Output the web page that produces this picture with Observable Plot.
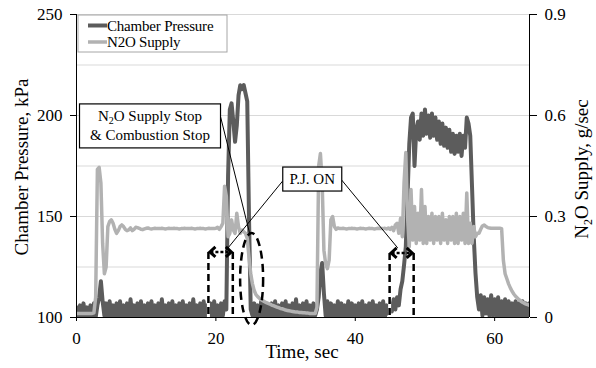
<!DOCTYPE html>
<html><head><meta charset="utf-8">
<script src="https://cdn.jsdelivr.net/npm/d3@7"></script>
<script src="https://cdn.jsdelivr.net/npm/@observablehq/plot@0.6"></script>
<style>body{margin:0;background:#fff;}</style>
</head><body><div id="chart"></div>
<script>
// ---- data (sampled every dt seconds, starting at t = 0) ----
const dt = 0.25;
// Chamber Pressure, kPa
const pressure = [
  105,101,106,100,107,101,105,100, // 0
  106,101,107,100,106,110,118,108, // 2
  101,107,100,108,101,106,100,107, // 4
  101,108,100,106,101,107,100,109, // 6
  101,106,100,107,101,108,100,106, // 8
  101,107,100,108,101,106,100,107, // 10
  101,109,100,106,101,107,100,108, // 12
  101,106,100,107,101,108,100,106, // 14
  101,107,100,109,101,106,100,107, // 16
  101,108,100,106,101,107,100,108, // 18
  101,106,100,107,101,108,104,170, // 20
  203,206,197,187,195,210,215,213, // 22
  215,211,207,150,104,101,107,100, // 24
  106,101,108,100,107,101,106,100, // 26
  107,101,108,100,106,101,107,100, // 28
  108,101,106,100,107,101,109,100, // 30
  106,101,107,100,108,101,106,100, // 32
  107,101,104,110,122,127,112,101, // 34
  108,100,107,101,106,100,108,101, // 36
  107,100,106,101,108,100,107,101, // 38
  106,100,107,101,108,100,106,101, // 40
  107,100,108,101,106,100,107,101, // 42
  108,100,106,102,107,103,109,104, // 44
  110,106,114,118,126,135,160,186, // 46
  199,201,175,193,197,188,201,190, // 48
  203,191,200,189,201,190,199,188, // 50
  197,186,196,185,194,184,193,182, // 52
  191,181,190,182,191,180,190,184, // 54
  199,196,190,165,140,122,110,104, // 56
  111,101,110,102,109,101,111,101, // 58
  109,101,110,100,108,101,109,100, // 60
  108,101,107,100,108,101,107,100, // 62
  108,101,107,100,107              // 64
];
// N2O Supply, g/sec
const n2o = [
  0.012,0.012,0.012,0.012,0.012,0.012,0.012,0.012, // 0
  0.012,0.012,0.014,0.06,0.44,0.446,0.40,0.22,     // 2
  0.13,0.15,0.27,0.285,0.29,0.28,0.262,0.25,       // 4
  0.258,0.27,0.275,0.27,0.262,0.258,0.26,0.266,    // 6
  0.258,0.262,0.268,0.267,0.265,0.262,0.261,0.263, // 8
  0.265,0.266,0.264,0.263,0.264,0.265,0.264,0.264, // 10
  0.264,0.265,0.264,0.263,0.264,0.265,0.264,0.264, // 12
  0.265,0.264,0.264,0.263,0.264,0.264,0.265,0.264, // 14
  0.264,0.264,0.265,0.264,0.263,0.264,0.264,0.265, // 16
  0.264,0.264,0.263,0.264,0.265,0.264,0.264,0.264, // 18
  0.265,0.268,0.262,0.27,0.28,0.39,0.36,0.24,      // 20
  0.25,0.29,0.26,0.25,0.31,0.27,0.25,0.26,         // 22
  0.255,0.25,0.235,0.18,0.13,0.10,0.08,0.068,      // 24
  0.062,0.057,0.053,0.05,0.047,0.044,0.042,0.04,   // 26
  0.037,0.035,0.033,0.031,0.029,0.027,0.026,0.024, // 28
  0.022,0.021,0.02,0.019,0.018,0.017,0.016,0.016,  // 30
  0.015,0.015,0.014,0.014,0.013,0.013,0.012,0.012, // 32
  0.012,0.012,0.03,0.45,0.487,0.40,0.20,0.16,      // 34
  0.145,0.17,0.29,0.30,0.27,0.262,0.266,0.264,     // 36
  0.264,0.265,0.264,0.263,0.264,0.264,0.265,0.264, // 38
  0.264,0.263,0.264,0.265,0.264,0.264,0.263,0.264, // 40
  0.265,0.264,0.264,0.263,0.264,0.265,0.264,0.264, // 42
  0.264,0.265,0.263,0.266,0.262,0.268,0.258,0.275, // 44
  0.28,0.25,0.295,0.24,0.40,0.49,0.30,0.21,        // 46
  0.38,0.23,0.33,0.22,0.31,0.23,0.38,0.22,         // 48
  0.33,0.22,0.30,0.23,0.31,0.22,0.30,0.23,         // 50
  0.30,0.22,0.31,0.23,0.29,0.22,0.30,0.23,         // 52
  0.30,0.22,0.31,0.22,0.30,0.23,0.31,0.22,         // 54
  0.37,0.22,0.28,0.22,0.27,0.24,0.25,0.25,         // 56
  0.262,0.272,0.275,0.27,0.267,0.266,0.265,0.265,  // 58
  0.265,0.265,0.265,0.265,0.264,0.17,0.13,0.115,   // 60
  0.10,0.088,0.078,0.07,0.063,0.058,0.053,0.049,   // 62
  0.045,0.042,0.04,0.038,0.036                     // 64
];
const timeTicks = [0, 20, 40, 60];
const pressureTicks = [100, 150, 200, 250];
const gridValues = [125, 150, 175, 200, 225, 250];
const n2oTicks = [0, 0.3, 0.6, 0.9];
const n2oTickLabels = ["0", "0.3", "0.6", "0.9"];
const seriesNames = ["Chamber Pressure", "N2O Supply"];

// annotations, in data units (time s, pressure kPa)
const brackets = [{t0: 19.0, t1: 22.5, top: 132.2}, {t0: 45.0, t1: 48.45, top: 131.7}];
const ellipseNote = {t: 25.2, p: 118.8, rt: 1.65, rp: 22.8};
const pointers = [
  {t0: 20.75, p0: 199.0, t1: 24.9, p1: 141.6},
  {t0: 29.65, p0: 167.3, t1: 21.46, p1: 132.7},
  {t0: 38.12, p0: 167.8, t1: 46.16, p1: 134.2}
];
const noteBoxes = [
  {t: 10.62, p: 194.6, w: 141, h: 44, lines: [["N", "2", "O Supply Stop"], ["& Combustion Stop"]]},
  {t: 33.9, p: 168.3, w: 59, h: 24, lines: [["P.J. ON"]]}
];

// ---- chart ----
const FONT = '"Liberation Serif", "Times New Roman", Times, serif';
const DARK = "#5c5c5c", LIGHT = "#b2b2b2";
const n2oToKpa = v => 100 + v * (150 / 0.9);
const rows = pressure.map((p, i) => ({t: i * dt, p, n: n2oToKpa(n2o[i])}));
const rightTicks = n2oTicks.map(n2oToKpa);

const chart = Plot.plot({
  width: 596, height: 368,
  marginLeft: 76, marginRight: 67, marginTop: 14, marginBottom: 51,
  style: {fontFamily: FONT, fontSize: "17px", color: "#000", background: "#fff"},
  x: {domain: [0, 65]},
  y: {domain: [100, 250]},
  marks: [
    Plot.gridY(gridValues, {stroke: "#d9d9d9", strokeOpacity: 1}),
    Plot.line(rows, {x: "t", y: "p", stroke: DARK, strokeWidth: 4, clip: true}),
    Plot.line(rows, {x: "t", y: "n", stroke: LIGHT, strokeWidth: 3.5, clip: true}),
    Plot.ruleX([0, 65], {stroke: "#000"}),
    Plot.ruleY([100], {stroke: "#000"}),
    Plot.axisY(pressureTicks, {anchor: "left", tickSize: 6, tickPadding: 8, label: null}),
    Plot.axisY(rightTicks, {anchor: "right", tickSize: 7, tickPadding: 8, label: null,
      tickFormat: d => n2oTickLabels[rightTicks.findIndex(v => Math.abs(v - d) < 1e-6)]}),
    Plot.axisX(timeTicks, {anchor: "bottom", tickSize: 4, tickPadding: 10, label: null})
  ]
});
document.getElementById("chart").appendChild(chart);

const sx = chart.scale("x"), sy = chart.scale("y");
const X = v => sx.apply(v), Y = v => sy.apply(v);
const svg = d3.select(chart);
const g = svg.append("g").attr("font-family", FONT);

// dashed brackets with double arrows
for (const b of brackets) {
  const x0 = X(b.t0), x1 = X(b.t1), yt = Y(b.top), yb = Y(100);
  for (const x of [x0, x1]) {
    g.append("line").attr("x1", x).attr("x2", x).attr("y1", yt).attr("y2", yb)
      .attr("stroke", "#fff").attr("stroke-width", 3);
    g.append("line").attr("x1", x).attr("x2", x).attr("y1", yt).attr("y2", yb)
      .attr("stroke", "#000").attr("stroke-width", 2.5).attr("stroke-dasharray", "7,4");
  }
  g.append("line").attr("x1", x0 + 2).attr("x2", x1 - 2).attr("y1", yt).attr("y2", yt)
    .attr("stroke", "#000").attr("stroke-width", 2.5).attr("stroke-dasharray", "3,2");
  g.append("path").attr("d", `M${x0 + 7},${yt - 5}L${x0 + 1.5},${yt}L${x0 + 7},${yt + 5}`)
    .attr("fill", "none").attr("stroke", "#000").attr("stroke-width", 3);
  g.append("path").attr("d", `M${x1 - 7},${yt - 5}L${x1 - 1.5},${yt}L${x1 - 7},${yt + 5}`)
    .attr("fill", "none").attr("stroke", "#000").attr("stroke-width", 3);
}

// dashed ellipse
g.append("ellipse")
  .attr("cx", X(ellipseNote.t)).attr("cy", Y(ellipseNote.p))
  .attr("rx", X(ellipseNote.t + ellipseNote.rt) - X(ellipseNote.t))
  .attr("ry", Y(ellipseNote.p - ellipseNote.rp) - Y(ellipseNote.p))
  .attr("fill", "none").attr("stroke", "#000").attr("stroke-width", 2.5).attr("stroke-dasharray", "8,5");

// pointer lines
for (const p of pointers) {
  g.append("line").attr("x1", X(p.t0)).attr("y1", Y(p.p0)).attr("x2", X(p.t1)).attr("y2", Y(p.p1))
    .attr("stroke", "#000").attr("stroke-width", 1);
}

// note boxes
for (const b of noteBoxes) {
  const cx = X(b.t), cy = Y(b.p);
  g.append("rect").attr("x", cx - b.w / 2).attr("y", cy - b.h / 2).attr("width", b.w).attr("height", b.h)
    .attr("fill", "#fff").attr("stroke", "#000").attr("stroke-width", 1.2);
  const n = b.lines.length;
  b.lines.forEach((parts, i) => {
    const t = g.append("text").attr("x", cx).attr("y", cy + (i - (n - 1) / 2) * 19 + 5)
      .attr("text-anchor", "middle").attr("font-size", 15).attr("fill", "#000");
    if (parts.length === 3) {
      t.append("tspan").text(parts[0]);
      t.append("tspan").attr("font-size", 10).attr("dy", 3).text(parts[1]);
      t.append("tspan").attr("dy", -3).text(parts[2]);
    } else t.text(parts[0]);
  });
}

// legend
const lg = g.append("g");
lg.append("rect").attr("x", 78).attr("y", 15).attr("width", 149).attr("height", 37)
  .attr("fill", "#fff").attr("stroke", "#a6a6a6").attr("stroke-width", 1);
[[DARK, 4, 25.5, 31], [LIGHT, 3.5, 42, 47]].forEach(([c, w, ly, ty], i) => {
  lg.append("line").attr("x1", 88).attr("x2", 107).attr("y1", ly).attr("y2", ly)
    .attr("stroke", c).attr("stroke-width", w);
  lg.append("text").attr("x", 107).attr("y", ty).attr("font-size", 15).attr("fill", "#000")
    .attr("text-anchor", "start").attr("letter-spacing", -0.2).text(seriesNames[i]);
});

// axis titles
g.append("text").attr("transform", "translate(28,167) rotate(-90)").attr("text-anchor", "middle")
  .attr("font-size", 19).attr("fill", "#000").text("Chamber Pressure, kPa");
const rt = g.append("text").attr("transform", "translate(588,169) rotate(-90)").attr("text-anchor", "middle")
  .attr("font-size", 19).attr("fill", "#000");
rt.append("tspan").text("N");
rt.append("tspan").attr("font-size", 12).attr("dy", 4).text("2");
rt.append("tspan").attr("dy", -4).text("O Supply, g/sec");
g.append("text").attr("x", 302).attr("y", 358).attr("text-anchor", "middle")
  .attr("font-size", 19).attr("fill", "#000").text("Time, sec");
</script>
</body></html>
